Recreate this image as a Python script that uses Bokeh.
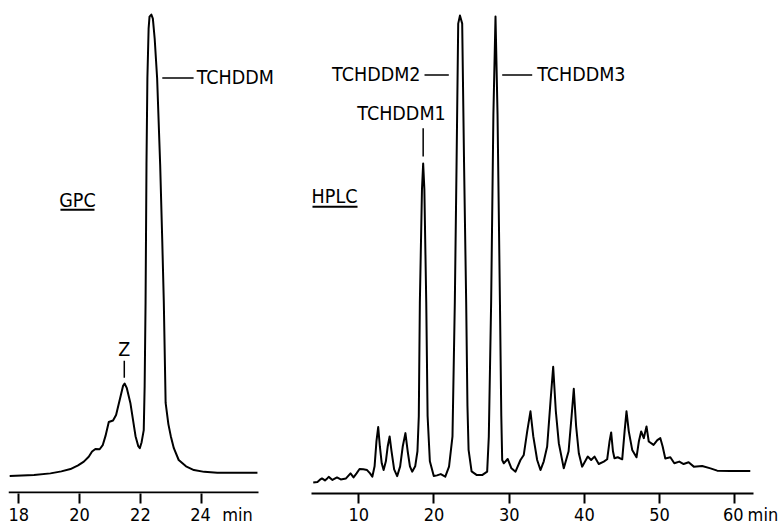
from bokeh.plotting import figure
from bokeh.layouts import row
from bokeh.models import Range1d, FixedTicker, Label
from bokeh.embed import file_html
from bokeh.resources import INLINE

FONT = "DejaVu Sans Condensed"

# ---- data (time in min, detector signal in arbitrary units) ----
gpc_time = [17.70, 18.5, 19.04, 19.4, 19.7, 19.95, 20.14, 20.3, 20.41, 20.52, 20.66, 20.76,
            20.85, 20.96, 21.1, 21.2, 21.35, 21.43, 21.48, 21.55, 21.67, 21.84, 21.93, 21.98,
            22.04, 22.11, 22.14, 22.17, 22.2, 22.23, 22.27, 22.3, 22.36, 22.41, 22.47, 22.55,
            22.65, 22.72, 22.77, 22.83, 22.92, 23.0, 23.1, 23.26, 23.5, 23.76, 24.1, 24.53,
            25.0, 25.85]
gpc_signal = [20.5, 21.5, 23, 25, 27.3, 31, 34.7, 39.5, 44.7, 47.3, 47, 51,
              60, 74, 75.5, 81, 100, 110, 112.3, 108, 93, 60, 50, 48,
              54, 66, 110, 193, 330, 416, 465, 477, 479, 475, 455, 416,
              330, 253, 193, 93, 72, 60, 48, 36.3, 30, 26.3, 24.5, 23.7,
              23.7, 23.7]

hplc_time = [3.94, 4.5, 4.8, 5.1, 5.5, 5.8, 6.0, 6.5, 7.1, 7.6, 8.3, 8.9, 9.3, 9.7, 10.1,
             10.6, 11.1, 11.5, 11.8, 12.1, 12.35, 12.58, 12.8, 13.05, 13.3, 13.6, 13.85,
             14.1, 14.35, 14.7, 15.1, 15.5, 15.85, 16.2, 16.5, 16.8, 17.1, 17.5, 17.8,
             17.98, 18.12, 18.4, 18.56, 18.72, 18.97, 19.15, 19.45, 19.97, 20.4, 20.9,
             21.5, 22.0, 22.46, 22.77, 23.0, 23.22, 23.45, 23.75, 24.0, 24.28, 24.45,
             24.6, 25.0, 25.7, 26.4, 27.07, 27.29, 27.6, 27.9, 28.18, 28.45, 28.77,
             28.95, 29.07, 29.28, 29.8, 30.3, 30.84, 31.5, 31.94, 32.4, 32.83, 33.2,
             33.72, 34.16, 34.6, 35.05, 35.5, 35.85, 36.2, 36.6, 37.26, 37.9, 38.3,
             38.59, 38.9, 39.26, 39.7, 40.45, 40.9, 41.34, 41.91, 42.58, 43.03, 43.35,
             43.56, 43.8, 44.0, 44.44, 45.03, 45.35, 45.6, 45.9, 46.36, 46.93, 47.25,
             47.55, 47.9, 48.26, 48.56, 49.2, 49.7, 50.1, 50.4, 50.76, 51.43, 51.96,
             52.62, 53.2, 53.86, 54.55, 55.66, 56.77, 57.66, 59.4, 62.06]
hplc_signal = [14, 14.5, 16.5, 18, 16, 18, 19.5, 16.5, 19, 17, 18, 23, 19, 23, 27.3,
               27, 26.3, 23, 19.7, 30, 55, 69, 50, 33, 26.3, 35, 50,
               59.7, 45, 27, 20.3, 30, 50, 63, 45, 30, 24.7, 30, 45,
               80, 193, 305, 331, 305, 193, 80, 35, 20.3, 21, 22.3,
               19.7, 29.7, 59.7, 193, 330, 470, 478, 470, 330, 193, 90,
               46.3, 25, 21.3, 21.3, 24.7, 59.7, 193, 380, 477, 380, 193,
               80, 36.3, 33, 37.3, 28, 24.7, 36.3, 41.3, 65, 84.7, 60,
               36.3, 26.3, 35, 49.7, 95, 129, 85, 53, 28, 45, 80,
               107, 70, 43, 29.7, 39.7, 36.3, 39.7, 32.3, 34.7, 37, 55,
               63.7, 45, 38, 39, 37, 65, 84.7, 65, 46.3, 39, 55,
               64.7, 58, 69.7, 54.7, 51.3, 56, 58, 50, 37.7, 39, 33,
               34.7, 32.3, 34, 29.7, 30.3, 28, 25.7, 25.3, 25.3]

gpc_ticks = [18, 20, 22, 24]
hplc_ticks = [10, 20, 30, 40, 50, 60]
unit_text = "min"
gpc_name = "GPC"
hplc_name = "HPLC"

H = 529
Y0, Y1 = 3, 493
TICK_FS = "18px"
LAB_FS = "19.5px"


def make_fig(xr, width, mbl, mbr, ticks, unit_tick, pad_left, gap):
    p = figure(width=width, height=H, x_range=Range1d(*xr), y_range=Range1d(Y0, Y1),
               output_backend="svg", toolbar_location=None, y_axis_location=None,
               min_border_left=mbl, min_border_right=mbr, min_border_top=0,
               min_border_bottom=36)
    p.outline_line_color = None
    p.grid.visible = False
    p.background_fill_color = "white"
    p.border_fill_color = "white"
    ax = p.xaxis[0]
    ax.axis_label = None
    ax.ticker = FixedTicker(ticks=ticks, minor_ticks=[])
    ax.major_tick_in = 0
    ax.major_tick_out = 10
    ax.minor_tick_in = 0
    ax.minor_tick_out = 0
    ax.axis_line_width = 2
    ax.axis_line_color = "black"
    ax.major_tick_line_width = 2
    ax.major_tick_line_color = "black"
    ax.major_label_text_font = FONT
    ax.major_label_text_font_size = TICK_FS
    ax.major_label_text_color = "black"
    ax.major_label_standoff = 0
    # unit written after the last tick value, value kept centred on its tick
    ax.major_label_overrides = {unit_tick: pad_left + str(unit_tick) + gap + unit_text}
    return p


def lab(p, x, y, text, align="center"):
    p.add_layout(Label(x=x, y=y, text=text, text_font=FONT, text_font_size=LAB_FS,
                       text_color="black", text_align=align, text_baseline="middle"))


def seg(p, x0, y0, x1, y1, w=1.5):
    p.segment(x0=[x0], y0=[y0], x1=[x1], y1=[y1], line_color="black", line_width=w)


# ---- GPC panel ----
gpc_axis_end = 25.885
p1 = make_fig((17.661, 26.806), 286, 8, 0, gpc_ticks, 24,
              "\u2003\u2003\u2002", "\u2002\u2009")
p1.xaxis[0].axis_line_color = None
seg(p1, 17.661, Y0 + 1.0, gpc_axis_end, Y0 + 1.0, 2)
p1.line(gpc_time, gpc_signal, line_color="black", line_width=2, line_join="round")
lab(p1, 19.93, 294.5, gpc_name)
seg(p1, 19.37, 285, 20.49, 285, 1.8)
lab(p1, 21.47, 146, "Z")
seg(p1, 21.47, 118, 21.47, 135)
lab(p1, 23.85, 416, "TCHDDM", "left")
seg(p1, 22.72, 416, 23.75, 416)

# ---- HPLC panel ----
p2 = make_fig((3.71, 62.49), 497, 25, 30, hplc_ticks, 60,
              "\u2003\u2002\u2005\u2009", "\u2005")
p2.line(hplc_time, hplc_signal, line_color="black", line_width=2, line_join="round")
lab(p2, 6.77, 298, hplc_name)
seg(p2, 3.84, 288, 9.83, 288, 1.8)
lab(p2, 15.68, 380.5, "TCHDDM1")
seg(p2, 18.56, 338, 18.56, 366)
lab(p2, 18.2, 419, "TCHDDM2", "right")
seg(p2, 18.74, 419, 21.97, 419)
lab(p2, 33.72, 419, "TCHDDM3", "left")
seg(p2, 29.07, 419, 33.06, 419)

layout = row(p1, p2)
open("out.html", "w").write(file_html(layout, INLINE))
